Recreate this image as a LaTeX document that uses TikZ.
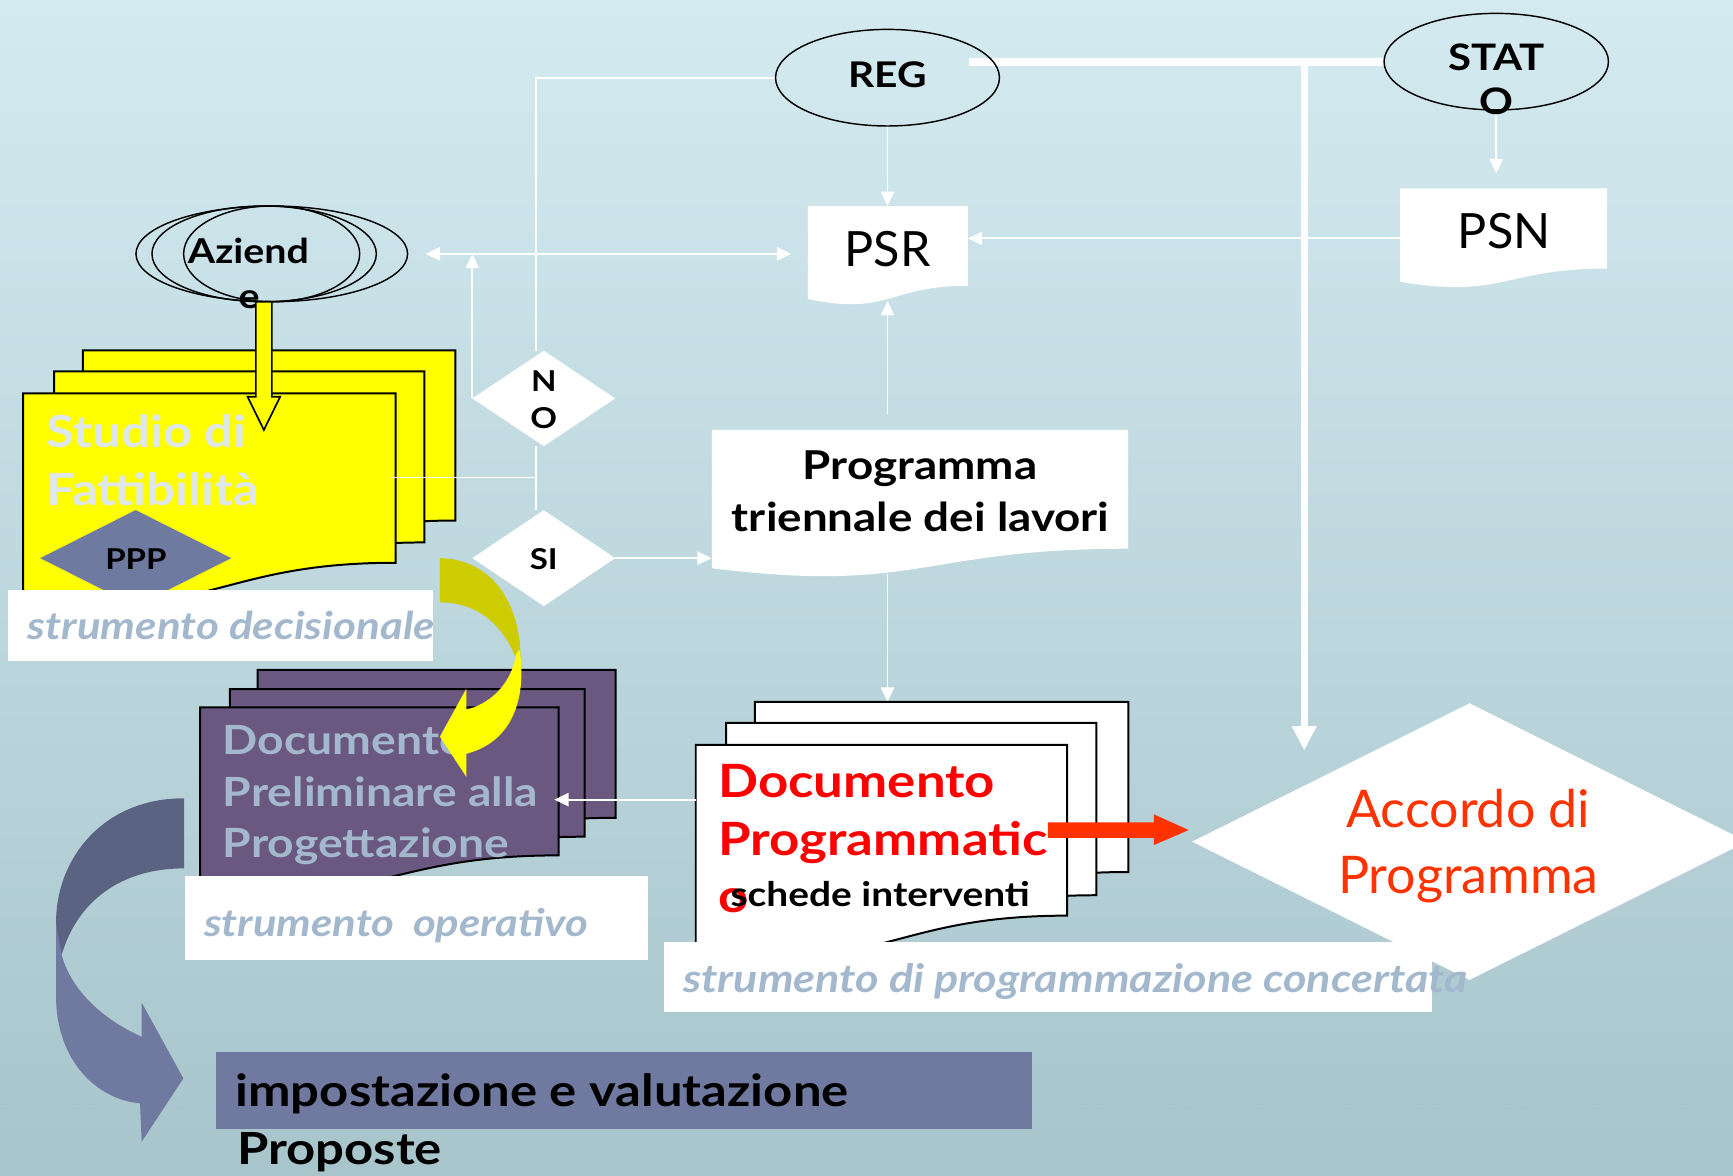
\documentclass[tikz,border=0pt]{standalone}
\usepackage{fontspec}
\setmainfont{Lato}
\newfontfamily\gb{Lato}[FakeStretch=1.15]
\usetikzlibrary{arrows.meta,shapes.geometric}
\definecolor{bgtop}{RGB}{211,234,240}
\definecolor{bgbot}{RGB}{168,197,204}
\definecolor{dashc}{RGB}{168,192,214}
\definecolor{ylw}{RGB}{255,255,0}
\definecolor{olivey}{RGB}{204,204,0}
\definecolor{slate}{RGB}{112,121,160}
\definecolor{slatedark}{RGB}{90,100,130}
\definecolor{pppc}{RGB}{111,122,160}
\definecolor{purp}{RGB}{107,88,128}
\definecolor{paletxt}{RGB}{163,184,204}
\definecolor{studiotxt}{RGB}{222,232,236}
\definecolor{redorange}{RGB}{255,51,0}
\definecolor{pured}{RGB}{255,0,0}
\newcommand\fs[1]{\fontsize{#1}{#1}\selectfont}
\newcommand\docshape[6]{%
  \path[#6] (#2,#3) -- (#4,#3) -- (#4,{#3+0.802*#5}) .. controls ({(#2+#4)/2},{#3+0.802*#5}) and ({(#2+#4)/2},{#3+1.1075*#5}) .. (#2,{#3+0.934*#5}) -- cycle;
  \node[inner sep=0, outer sep=0, minimum width={(#4-#2)*1pt}, minimum height={#5*1pt}, anchor=north west] (#1) at (#2,#3) {};}
\pgfdeclarelayer{bgzero}
\pgfdeclarelayer{bgone}
\pgfsetlayers{bgzero,bgone,main}
\begin{document}
\begin{tikzpicture}[x=1pt,y=-1pt,
  conn/.style={draw=white, line width=1.6},
  arr/.style={conn, -{Triangle[length=13,width=12]}},
  txt/.style={inner sep=0, outer sep=0},
  outl/.style={draw=black, line width=1.8},
  oval/.style={draw=black, ellipse, line width=1.3, inner sep=0},
  wbox/.style={fill=white, inner sep=0, outer sep=0, anchor=north west},
  dia/.style={diamond, inner sep=0, outer sep=0}]
\useasboundingbox (0,0) rectangle (1568,1064);
% ---------- nodes ----------
\node[oval, minimum width=202.6, minimum height=87.4] (reg) at (803,70.3) {};
\node[oval, minimum width=203, minimum height=87.4] (stato) at (1353.8,55.8) {};
\node[oval, minimum width=245.8, minimum height=86.6] (azo) at (245.9,229.7) {};
\node[oval, minimum width=203, minimum height=86.6] (azm) at (239,229.7) {};
\node[oval, minimum width=159.3, minimum height=86.6] (azi) at (245.8,229.7) {};
\docshape{psr}{731}{186.4}{875.7}{90}{fill=white}
\docshape{psn}{1266.7}{170.4}{1454}{90.5}{fill=white}
\docshape{prog}{644}{389}{1020.8}{134}{fill=white}
\node[dia, fill=white, minimum width=129.2, minimum height=86.3] (no) at (492,360.5) {};
\node[dia, fill=white, minimum width=129.2, minimum height=86.8] (si) at (492,505) {};
% studio stack
\docshape{studioB}{75}{317}{412}{192}{fill=ylw, outl}
\docshape{studioM}{49}{336}{384}{193}{fill=ylw, outl}
\docshape{studioF}{21}{356}{358}{191}{fill=ylw, outl}
\node[dia, fill=pppc, minimum width=172.8, minimum height=87] (ppp) at (122.8,505) {};
% preliminare stack
\docshape{prelB}{233}{606}{557}{167}{fill=purp, outl}
\docshape{prelM}{208}{623.5}{529}{166.5}{fill=purp, outl}
\docshape{prelF}{181}{640}{505.5}{167}{fill=purp, outl}
% programmatico stack
\docshape{dpB}{683}{635}{1021}{192}{fill=white, outl}
\docshape{dpM}{657}{654}{992}{194.5}{fill=white, outl}
\docshape{dpF}{629.5}{674}{965.6}{192.6}{fill=white, outl}
% accordo
\node[dia, fill=white, minimum width=502, minimum height=250.2] (acc) at (1329.6,761.5) {};
% connectors lying over the stacks
\coordinate (jn) at (485,432);
\draw[conn] ([xshift=-4]studioF.east |- jn) -- (jn);
\draw[arr] (dpF.west |- prelF.east) -- ([xshift=-4]prelF.east);
% ---------- background and connectors ----------
\begin{pgfonlayer}{bgzero}
\shade[top color=bgtop, bottom color=bgbot] (0,0) rectangle (1568,1064);
\draw[dashc, line width=1.2, dash pattern=on 8 off 8] (0,1003) -- (1530,1003);
\end{pgfonlayer}
\begin{pgfonlayer}{bgone}
\draw[conn] (reg.west) -| ([xshift=-7]no.north);
\draw[conn, {Triangle[length=13,width=12]}-{Triangle[length=13,width=12]}] ([xshift=15.7]azo.east) -- ([xshift=-15]psr.west |- azo.east);
\draw[arr] (no.west) -- (no.west |- azo.east);
\draw[conn] ([xshift=-7]no.south) -- ([xshift=-7]si.north);
\draw[arr] (si.east) -- (si.east -| prog.west);
\draw[arr] (reg.south) -- (reg.south |- psr.north);
\draw[arr] (psn.west) -- (psn.west -| psr.east);
\draw[arr] ([yshift=14]prog.north -| reg.south) -- ([yshift=4]psr.south -| reg.south);
\draw[arr] ([yshift=4]prog.south -| reg.south) -- (dpB.north -| reg.south);
\draw[arr] (stato.south) -- ([yshift=13.6]psn.north -| stato.south);
\draw[white, line width=7] ([xshift=-28.4]reg.east |- stato.west) -- (stato.west);
\coordinate (tj) at (1180,55.8);
\coordinate (tend) at (1180,679);
\draw[white, line width=6, -{Triangle[length=22,width=21]}] (tj) -- (tend);
\end{pgfonlayer}
% ---------- texts ----------
\node[txt, anchor=base] (tREG) at (803,79) {\gb\bfseries\fs{32}REG};
\node[txt, anchor=base] (tSTAT) at (1353.8,64) {\gb\bfseries\fs{33}STAT};
\node[txt, anchor=base] (tSTATo) at (1353.8,104) {\gb\bfseries\fs{33}O};
\node[txt, anchor=base west] (tAz) at (170,238) {\gb\bfseries\fs{31}Aziend};
\node[txt, anchor=base west] (tAze) at (216,279) {\gb\bfseries\fs{31}e};
\node[txt, anchor=base] (tPSR) at (803,241.5) {\fs{44}PSR};
\node[txt, anchor=base] (tPSN) at (1361,225) {\fs{44}PSN};
\node[txt, anchor=base] (tN) at (492,354) {\gb\bfseries\fs{26}N};
\node[txt, anchor=base] (tO) at (492,388) {\gb\bfseries\fs{26}O};
\node[txt, anchor=base] (tSI) at (492,515) {\gb\bfseries\fs{26}SI};
\node[txt, anchor=base] (tPPP) at (123,515) {\gb\bfseries\fs{26}PPP};
\node[txt, anchor=base west, text=studiotxt] (tStu1) at (42.4,404.5) {\gb\bfseries\fs{40}Studio di};
\node[txt, anchor=base west, text=studiotxt] (tStu2) at (42.4,457) {\gb\bfseries\fs{40}Fattibilità};
\node[txt, anchor=base] (tProg1) at (832.3,434) {\gb\bfseries\fs{36}Programma};
\node[txt, anchor=base] (tProg2) at (833,481) {\gb\bfseries\fs{36}triennale dei lavori};
\node[txt, anchor=base west, text=paletxt] (tPre1) at (201.7,683) {\gb\bfseries\fs{36.4}Documento};
\node[txt, anchor=base west, text=paletxt] (tPre2) at (201.7,730) {\gb\bfseries\fs{36.4}Preliminare alla};
\node[txt, anchor=base west, text=paletxt] (tPre3) at (201.7,775.5) {\gb\bfseries\fs{36.4}Progettazione};
\node[txt, anchor=base west, text=pured] (tDp1) at (650,722) {\gb\bfseries\fs{41.5}Documento};
\node[txt, anchor=base west, text=pured] (tDp2) at (650,774) {\gb\bfseries\fs{41.5}Programmatic};
\node[txt, anchor=base west, text=pured] (tDp3) at (650,826) {\gb\bfseries\fs{41.5}o};
\node[txt, anchor=base west] (tSch) at (661,820) {\gb\bfseries\fs{30.6}schede interventi};
\node[txt, anchor=base, text=redorange] (tAcc1) at (1328.5,749) {\fs{47}Accordo di};
\node[txt, anchor=base, text=redorange] (tAcc2) at (1328.5,808) {\fs{47}Programma};
% ---------- white label boxes ----------
\node[wbox, minimum width=385, minimum height=64] (bdec) at (7,534) {};
\node[wbox, minimum width=419, minimum height=76] (bop) at (167,793) {};
\node[wbox, minimum width=695, minimum height=64] (bconc) at (601,852) {};
\node[txt, anchor=base west, text=paletxt] (tdec) at (25,579) {\gb\bfseries\itshape\fs{34.6}strumento decisionale};
\node[txt, anchor=base west, text=paletxt] (top) at (184.6,847.5) {\gb\bfseries\itshape\fs{34.4}strumento\hspace{8pt} operativo};
\node[txt, anchor=base west, text=paletxt] (tconc) at (618,897.8) {\gb\bfseries\itshape\fs{35.4}strumento di programmazione concertata};
% ---------- arrows as shapes ----------
\fill[ylw, draw=black, line width=1.5] (231.5,273) -- (246,273) -- (246,359) -- (253.5,359) -- (238.75,389) -- (224,359) -- (231.5,359) -- cycle;
\fill[olivey] (398,505) .. controls (445,506) and (470,545) .. (471,594) -- (467.5,597) .. controls (455,565) and (432,545) .. (398,545) -- cycle;
\fill[ylw] (470,588) .. controls (476,625) and (468,670) .. (422,682) -- (422,703) -- (398,666.5) -- (422,623) -- (422,642) .. controls (440,638) and (462,622) .. (467,592) -- cycle;
\fill[slate] (50.7,830) -- (50.7,902) .. controls (51,960) and (88,995) .. (126.7,998.3) -- (128.2,1033) -- (165.9,975.7) -- (128.2,907.2) -- (128.2,938) .. controls (92,922) and (64,895) .. (55.8,864) -- cycle;
\fill[slatedark] (166.5,722.3) .. controls (95,722) and (50.7,775) .. (50.7,835) -- (55.8,864) .. controls (70,815) and (110,785.7) .. (166.5,785.7) -- cycle;
\fill[redorange] (948,744) -- (1044,744) -- (1044,736.8) -- (1075.5,751) -- (1044,764.6) -- (1044,758) -- (948,758) -- cycle;
% ---------- bottom box ----------
\node[fill=slate, anchor=north west, inner sep=0, outer sep=0, minimum width=738, minimum height=69.5] (bimp) at (195.3,951.6) {};
\node[txt, anchor=base west] (tImp) at (213,1001) {\gb\bfseries\fs{40}impostazione e valutazione};
\node[txt, anchor=base west] (tProp) at (214.6,1054) {\gb\bfseries\fs{40}Proposte};
\end{tikzpicture}
\end{document}
